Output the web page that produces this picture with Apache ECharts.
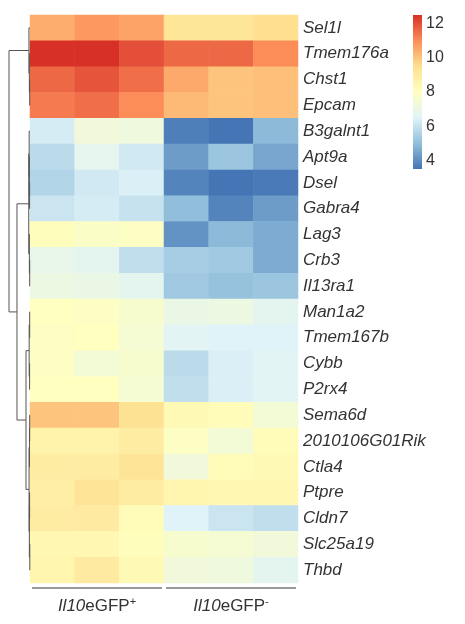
<!DOCTYPE html>
<html>
<head>
<meta charset="utf-8">
<title>Il10eGFP heatmap</title>
<script src="https://cdn.jsdelivr.net/npm/echarts@6/dist/echarts.min.js"></script>
<style>
  html, body { margin: 0; padding: 0; background: #fff; }
  #main { width: 465px; height: 624px; }
</style>
</head>
<body>
<div id="main"></div>
<script>
// rows in clustered order, top to bottom
const genes = ['Sel1l', 'Tmem176a', 'Chst1', 'Epcam', 'B3galnt1', 'Apt9a', 'Dsel', 'Gabra4',
  'Lag3', 'Crb3', 'Il13ra1', 'Man1a2', 'Tmem167b', 'Cybb', 'P2rx4', 'Sema6d',
  '2010106G01Rik', 'Ctla4', 'Ptpre', 'Cldn7', 'Slc25a19', 'Thbd'];
const samples = ['GFP+ 1', 'GFP+ 2', 'GFP+ 3', 'GFP- 1', 'GFP- 2', 'GFP- 3'];
const groups = ['Il10eGFP+', 'Il10eGFP-'];

// expression per gene, columns follow samples
const expression = [
  [10.4, 10.8, 10.6, 9.2, 9.2, 9.5],
  [12.5, 12.5, 12.0, 11.6, 11.6, 11.0],
  [11.6, 11.9, 11.5, 10.5, 10.0, 10.1],
  [11.3, 11.5, 11.0, 10.2, 10.0, 10.1],
  [6.3, 7.3, 7.2, 3.7, 3.5, 4.9],
  [5.8, 6.8, 6.2, 4.3, 5.2, 4.5],
  [5.6, 6.2, 6.4, 3.8, 3.5, 3.6],
  [6.1, 6.3, 6.0, 5.0, 3.8, 4.3],
  [8.1, 7.8, 7.9, 4.1, 4.9, 4.6],
  [6.9, 6.7, 5.9, 5.4, 5.3, 4.6],
  [7.1, 7.0, 6.7, 5.3, 5.1, 5.2],
  [8.0, 7.9, 7.6, 7.0, 7.1, 6.7],
  [7.9, 8.0, 7.5, 6.6, 6.5, 6.5],
  [7.9, 7.4, 7.6, 5.8, 6.4, 6.6],
  [8.0, 8.0, 7.5, 5.9, 6.4, 6.6],
  [10.0, 10.0, 9.4, 8.3, 8.2, 7.4],
  [8.6, 8.6, 8.9, 7.9, 7.4, 8.2],
  [8.9, 8.9, 9.3, 7.3, 8.2, 8.3],
  [8.8, 9.3, 8.9, 8.5, 8.4, 8.4],
  [8.9, 9.0, 8.2, 6.5, 6.1, 5.9],
  [8.4, 8.4, 8.1, 7.6, 7.5, 7.3],
  [8.5, 9.0, 8.3, 7.3, 7.2, 6.7]
];

// row dendrogram: [left, right, height], leaves are row indexes
const rowTree = [
  [0, [1, [2, 3, 0.15], 0.3], 0.5],
  [
    [[4, [5, [6, 7, 0.2], 0.3], 0.4], [8, [9, 10, 0.15], 0.3], 0.6],
    [
      [[11, 12, 0.15], [13, 14, 0.2], 0.4],
      [[[15, 16, 0.15], 17, 0.25], [[18, 19, 0.2], [20, 21, 0.1], 0.3], 0.45],
      1.9
    ],
    6.2
  ],
  10
];

// colour key
const colorRange = [3.5, 12.5];
const colorTicks = [4, 6, 8, 10, 12];
const palette = ['#4575b4', '#91bfdb', '#e0f3f8', '#ffffbf', '#fee090', '#fc8d59', '#d73027'];

const heatData = [];
expression.forEach((row, r) => row.forEach((v, c) => heatData.push([c, r, v])));

// flatten the tree into line segments [h1, y1, h2, y2]
const dendroSegs = [];
function walk(node) {
  if (!Array.isArray(node)) return { y: node, h: 0 };
  const a = walk(node[0]);
  const b = walk(node[1]);
  const h = node[2];
  dendroSegs.push([a.h, a.y, h, a.y]);
  dendroSegs.push([b.h, b.y, h, b.y]);
  dendroSegs.push([h, a.y, h, b.y]);
  return { y: (a.y + b.y) / 2, h: h };
}
walk(rowTree);

const font = "'Liberation Sans', Arial, sans-serif";
const chart = echarts.init(document.getElementById('main'));

chart.setOption({
  animation: false,
  textStyle: { fontFamily: font },
  grid: [
    { left: 30, top: 15, width: 268, height: 568 },
    { left: 9, top: 15, width: 21, height: 568 },
    { left: 413, top: 15, width: 9, height: 154 }
  ],
  xAxis: [
    { gridIndex: 0, type: 'category', data: samples, show: false },
    {
      gridIndex: 0, type: 'category', data: groups, position: 'bottom',
      axisLine: { show: false }, axisTick: { show: false },
      axisLabel: {
        margin: 13,
        interval: 0,
        hideOverlap: false,
        formatter: v => '{i|Il10}{n|eGFP}{s|' + v.slice(-1) + '}',
        rich: {
          i: { fontStyle: 'italic', fontSize: 17, color: '#333', lineHeight: 20 },
          n: { fontSize: 17, color: '#333', lineHeight: 20 },
          s: { fontSize: 11, color: '#333', verticalAlign: 'top' }
        }
      }
    },
    { gridIndex: 1, type: 'value', min: 0, max: 10, inverse: true, show: false },
    { gridIndex: 2, type: 'value', min: 0, max: 1, show: false }
  ],
  yAxis: [
    {
      gridIndex: 0, type: 'category', data: genes, inverse: true, position: 'right',
      axisLine: { show: false }, axisTick: { show: false },
      axisLabel: { fontStyle: 'italic', fontSize: 17, color: '#333', margin: 5, interval: 0 }
    },
    { gridIndex: 1, type: 'value', min: -0.5, max: genes.length - 0.5, inverse: true, show: false },
    {
      gridIndex: 2, type: 'value', min: colorRange[0], max: colorRange[1], position: 'right',
      axisLine: { show: false }, axisTick: { show: false }, splitLine: { show: false },
      axisLabel: { customValues: colorTicks, fontSize: 16, color: '#333', margin: 4 }
    }
  ],
  visualMap: {
    show: false, type: 'continuous', seriesIndex: 0, dimension: 2,
    min: colorRange[0], max: colorRange[1],
    inRange: { color: palette }
  },
  series: [
    {
      type: 'heatmap', xAxisIndex: 0, yAxisIndex: 0, data: heatData,
      itemStyle: { borderWidth: 0 }
    },
    {
      // group brackets under the columns
      type: 'custom', xAxisIndex: 1, yAxisIndex: 0,
      data: groups.map((g, i) => [i, genes.length - 1]),
      encode: { x: 0, y: 1 },
      renderItem: (params, api) => {
        const c = api.coord([api.value(0), api.value(1)]);
        const size = api.size([1, 1]);
        const y = c[1] + size[1] / 2 + 5;
        return {
          type: 'line',
          shape: { x1: c[0] - size[0] / 2 + 2, y1: y, x2: c[0] + size[0] / 2 - 2, y2: y },
          style: { stroke: '#9a9a9a', lineWidth: 2 }
        };
      }
    },
    {
      // row dendrogram
      type: 'custom', xAxisIndex: 2, yAxisIndex: 1,
      data: dendroSegs,
      encode: { x: [0, 2], y: [1, 3] },
      renderItem: (params, api) => {
        const p1 = api.coord([api.value(0), api.value(1)]);
        const p2 = api.coord([api.value(2), api.value(3)]);
        return {
          type: 'line',
          shape: { x1: p1[0], y1: p1[1], x2: p2[0], y2: p2[1] },
          style: { stroke: '#555', lineWidth: 1 }
        };
      }
    },
    {
      // colour key bar
      type: 'custom', xAxisIndex: 3, yAxisIndex: 2,
      data: [[0, colorRange[0], 1, colorRange[1]]],
      encode: { x: [0, 2], y: [1, 3] },
      renderItem: (params, api) => {
        const tl = api.coord([api.value(0), api.value(3)]);
        const br = api.coord([api.value(2), api.value(1)]);
        const stops = palette.slice().reverse().map((c, i, arr) => ({ offset: i / (arr.length - 1), color: c }));
        return {
          type: 'rect',
          shape: { x: tl[0], y: tl[1], width: br[0] - tl[0], height: br[1] - tl[1] },
          style: { fill: new echarts.graphic.LinearGradient(0, 0, 0, 1, stops) }
        };
      }
    }
  ]
});
</script>
</body>
</html>
